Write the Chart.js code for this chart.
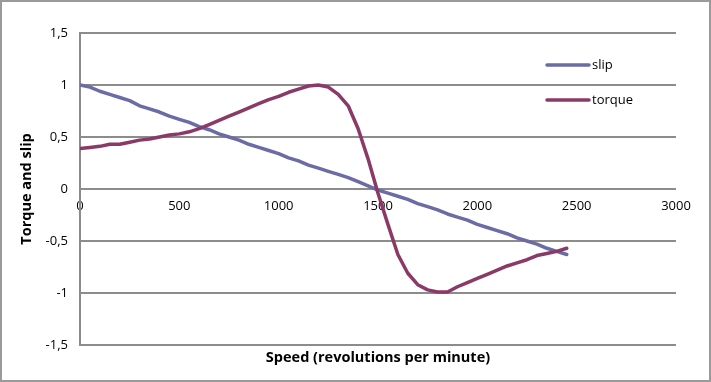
<!DOCTYPE html>
<html>
<head>
<meta charset="utf-8">
<script src="https://cdn.jsdelivr.net/npm/chart.js@4/dist/chart.umd.min.js"></script>
<style>
  html, body { margin: 0; padding: 0; background: #fff; }
  #wrap { position: relative; width: 711px; height: 382px; }
  canvas { display: block; }
</style>
</head>
<body>
<div id="wrap"><canvas id="c" width="711" height="382"></canvas></div>
<script>
// ---- data ----
const speeds = [0, 50, 100, 150, 200, 250, 300, 350, 400, 450,
                500, 550, 600, 650, 700, 750, 800, 850, 900, 950,
                1000, 1050, 1100, 1150, 1200, 1250, 1300, 1350, 1400, 1450,
                1500, 1550, 1600, 1650, 1700, 1750, 1800, 1850, 1900, 1950,
                2000, 2050, 2100, 2150, 2200, 2250, 2300, 2350, 2400, 2450];
const slip = [1.00, 0.98, 0.94, 0.91, 0.88, 0.85, 0.80, 0.77, 0.74, 0.70,
              0.67, 0.64, 0.60, 0.57, 0.53, 0.50, 0.47, 0.43, 0.40, 0.37,
              0.34, 0.30, 0.27, 0.23, 0.20, 0.17, 0.14, 0.11, 0.07, 0.03,
              -0.01, -0.04, -0.07, -0.10, -0.14, -0.17, -0.20, -0.24, -0.27, -0.30,
              -0.34, -0.37, -0.40, -0.43, -0.47, -0.50, -0.53, -0.57, -0.60, -0.63];
const torque = [0.39, 0.40, 0.41, 0.43, 0.43, 0.45, 0.47, 0.48, 0.50, 0.52,
                0.53, 0.55, 0.58, 0.62, 0.66, 0.70, 0.74, 0.78, 0.82, 0.86,
                0.89, 0.93, 0.96, 0.99, 1.00, 0.98, 0.91, 0.80, 0.58, 0.29,
                -0.04, -0.34, -0.63, -0.81, -0.92, -0.97, -0.99, -0.99, -0.94, -0.90,
                -0.86, -0.82, -0.78, -0.74, -0.71, -0.68, -0.64, -0.62, -0.60, -0.57];
const seriesNames = ['slip', 'torque'];
const seriesColors = ['#6b6ba5', '#8b3a68'];
const xTicks = [0, 500, 1000, 1500, 2000, 2500, 3000];
const yTicks = [-1.5, -1, -0.5, 0, 0.5, 1, 1.5];
const xTitle = 'Speed (revolutions per minute)';
const yTitle = 'Torque and slip';

const FONT = "'Open Sans', 'Noto Sans', sans-serif";

const toPts = (vals) => speeds.map((s, i) => ({ x: s, y: vals[i] }));
const fmt = (v) => String(v).replace('.', ',');

const frame = {
  id: 'frame',
  beforeDraw(chart) {
    const ctx = chart.ctx;
    ctx.save();
    ctx.fillStyle = '#ffffff';
    ctx.fillRect(0, 0, chart.width, chart.height);
    ctx.restore();
  },
  afterDraw(chart) {
    const ctx = chart.ctx;
    ctx.save();
    ctx.strokeStyle = '#9a9a9a';
    ctx.lineWidth = 2;
    ctx.strokeRect(1, 1, chart.width - 2, chart.height - 2);
    // legend inside the plot area
    const a = chart.chartArea;
    const x0 = a.right - 129, x1 = a.right - 87;
    const rows = [a.top + 32, a.top + 67];
    ctx.font = "13px " + FONT;
    ctx.textBaseline = 'middle';
    ctx.textAlign = 'left';
    chart.data.datasets.forEach((ds, i) => {
      const y = rows[i];
      ctx.strokeStyle = ds.borderColor;
      ctx.lineWidth = 3.5;
      ctx.lineCap = 'round';
      ctx.beginPath();
      ctx.moveTo(x0, y);
      ctx.lineTo(x1, y);
      ctx.stroke();
      ctx.fillStyle = '#000';
      ctx.fillText(ds.label, x1 + 3, y);
    });
    ctx.restore();
  }
};

new Chart(document.getElementById('c'), {
  type: 'line',
  data: {
    datasets: [
      { label: seriesNames[0], data: toPts(slip), borderColor: seriesColors[0], order: 1 },
      { label: seriesNames[1], data: toPts(torque), borderColor: seriesColors[1], order: 0 }
    ]
  },
  options: {
    responsive: false,
    animation: false,
    devicePixelRatio: 1,
    layout: { padding: { top: 33, right: 35, left: 0, bottom: 0 } },
    elements: {
      line: { borderWidth: 3.5, tension: 0, fill: false, borderCapStyle: 'round', borderJoinStyle: 'round' },
      point: { radius: 0, hoverRadius: 0 }
    },
    plugins: { legend: { display: false }, tooltip: { enabled: false } },
    scales: {
      x: {
        type: 'linear',
        position: { y: 0 },
        min: 0, max: 3000,
        afterBuildTicks: (s) => { s.ticks = xTicks.map(v => ({ value: v })); },
        ticks: {
          color: '#000', padding: 1,
          font: { family: FONT, size: 13 },
          maxRotation: 0,
          callback: (v) => fmt(v)
        },
        grid: { display: false },
        border: { display: false },
        afterFit: (s) => { s.height = 0; }
      },
      xt: {
        type: 'linear',
        position: 'bottom',
        display: true,
        ticks: { display: false },
        grid: { display: false },
        border: { display: false },
        title: {
          display: true, text: xTitle, color: '#000',
          font: { family: FONT, size: 14.5, weight: 'bold' },
          padding: { top: 0, bottom: 15 }
        },
        afterFit: (s) => { s.height = 37; }
      },
      y: {
        type: 'linear',
        position: 'left',
        min: -1.5, max: 1.5,
        afterBuildTicks: (s) => { s.ticks = yTicks.map(v => ({ value: v })); },
        ticks: {
          color: '#000', padding: 12,
          font: { family: FONT, size: 13 },
          callback: (v) => fmt(v)
        },
        grid: { color: '#8c8c8c', lineWidth: 2, drawTicks: false },
        border: { display: true, color: '#8c8c8c', width: 2 },
        title: {
          display: true, text: yTitle, color: '#000',
          font: { family: FONT, size: 14.5, weight: 'bold' },
          padding: { top: 18.5, bottom: 0 }
        },
        afterFit: (s) => { s.width = 80; }
      }
    }
  },
  plugins: [frame]
});
</script>
</body>
</html>
